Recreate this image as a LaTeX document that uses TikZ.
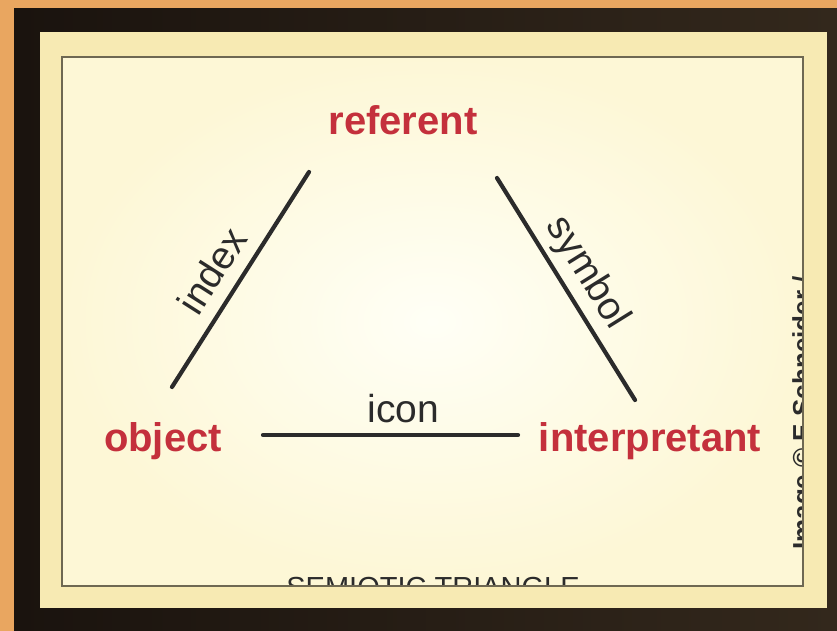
\documentclass[tikz,border=0pt]{standalone}
\usepackage{fontspec}
\setmainfont{Liberation Sans}
\definecolor{bgorange}{HTML}{E9A660}
\definecolor{framedark}{HTML}{33281C}
\definecolor{framedeep}{HTML}{1A130E}
\definecolor{mat}{HTML}{F7EAB3}
\definecolor{paper}{HTML}{FDF7D6}
\definecolor{paperc}{HTML}{FFFFF6}
\definecolor{rulec}{HTML}{6E6852}
\definecolor{termred}{HTML}{C4303C}
\definecolor{ink}{HTML}{2B2B2B}
\begin{document}
\begin{tikzpicture}[x=1pt,y=-1pt,
  term/.style={font=\fontsize{40}{40}\selectfont\bfseries, text=termred, inner sep=0pt, anchor=base},
  rel/.style={line width=4.2pt, draw=ink, line cap=round},
  lab/.style={font=\fontsize{39}{39}\selectfont, text=ink, inner sep=0pt, anchor=base},
  faint/.style={text=ink, inner sep=0pt, anchor=base}]
\useasboundingbox (0,0) rectangle (837,631);
% frame and mat
\fill[bgorange] (0,0) rectangle (837,631);
\shade[left color=framedeep, right color=framedark] (14,9) rectangle (837,631);
\fill[mat] (40,32) rectangle (827,608);
\shade[inner color=paperc, outer color=paper] (62,57) rectangle (803,586);
% clipped captions
\begin{scope}
  \clip (62,57) rectangle (802,585);
  \node[faint, font=\fontsize{29}{29}\selectfont] (title) at (433,597) {SEMIOTIC TRIANGLE};
  \node[faint, font=\fontsize{26}{26}\selectfont\bfseries, rotate=90] (credit) at (811,413) {Image © E Schneider /};
\end{scope}
\draw[rulec, line width=2pt] (62,57) rectangle (803,586);
% terms
\node[term] (ref) at (403,135) {referent};
\node[term] (obj) at (163,451) {object};
\node[term] (int) at (650,451) {interpretant};
% connector ends
\coordinate (io) at (172,387);
\coordinate (ir) at (309,172);
\coordinate (sr) at (497,178);
\coordinate (si) at (635,400);
\coordinate (co) at (263,435);
\coordinate (ci) at (518,435);
% connectors
\draw[rel] (io) -- node[lab, sloped, pos=0.47, yshift=15pt] (lindex) {index} (ir);
\draw[rel] (sr) -- node[lab, sloped, pos=0.49, yshift=16pt] (lsymbol) {symbol} (si);
\draw[rel] (co) -- node[lab, pos=0.55, yshift=13pt] (licon) {icon} (ci);
\end{tikzpicture}
\end{document}
